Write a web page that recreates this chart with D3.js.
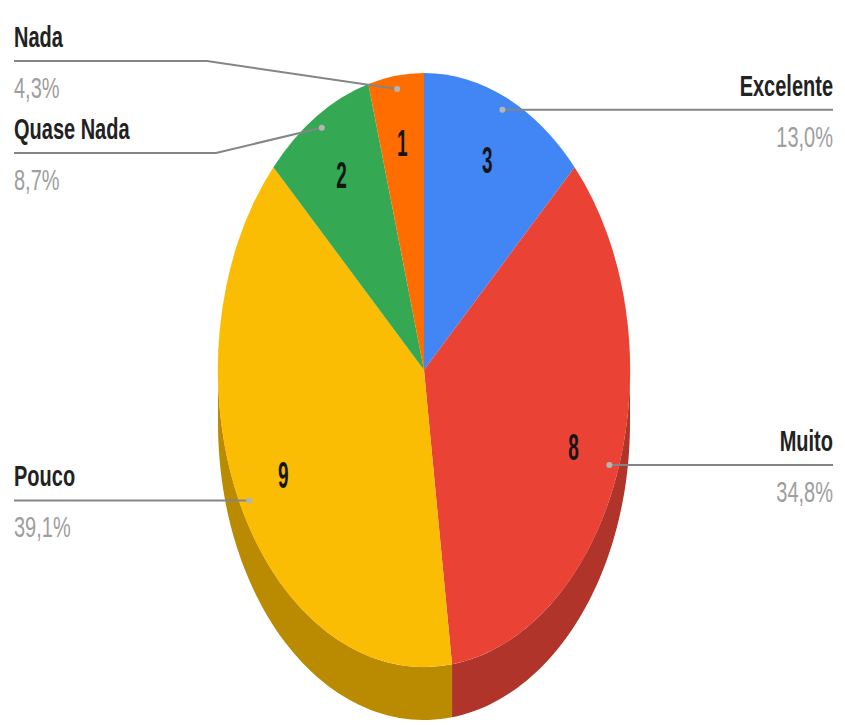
<!DOCTYPE html>
<html>
<head>
<meta charset="utf-8">
<script src="https://cdn.jsdelivr.net/npm/d3@7"></script>
<style>
  html, body { margin: 0; padding: 0; background: #fff; }
  svg { display: block; }
  text { font-family: "Liberation Sans", Arial, sans-serif; }
</style>
</head>
<body>
<svg id="chart" width="845" height="725"></svg>
<script>
// Survey answers and their counts
const categories = ["Excelente", "Muito", "Pouco", "Quase Nada", "Nada"];
const values = [3, 8, 9, 2, 1];
const topColors = ["#4285F4", "#EA4335", "#FBBC04", "#34A853", "#FF6D01"];
const sideColors = ["#2E5FB0", "#B0342A", "#BA8A00", "#26793C", "#B34C00"];

// Label placement: which side the callout sits on, line height (null = level with the dot) and elbow x
const calloutSide = ["right", "right", "left", "left", "left"];
const calloutY = [null, null, null, 153, 61];
const calloutKnee = [null, null, null, 216, 207];

const W = 845, H = 725;
const cx = 424, cy = 370, rx = 206, ry = 297, depth = 53;
const leftX = 14, rightX = 833;

const svg = d3.select("#chart");

// Ellipse scales: unit coordinates -> pixels
const sx = d3.scaleLinear().domain([-1, 1]).range([cx - rx, cx + rx]);
const sy = d3.scaleLinear().domain([-1, 1]).range([cy - ry, cy + ry]);
const pt = (a, r, dy = 0) => [sx(r * Math.sin(a)), sy(-r * Math.cos(a)) + dy];

const pie = d3.pie().sort(null).value(d => d)(values);
const total = d3.sum(values);
const locale = d3.formatLocale({ decimal: ",", thousands: ".", grouping: [3], currency: ["", ""] });
const pct = v => locale.format(".1f")(v / total * 100) + "%";

// Side wall of the disc (only the front half is visible)
const line = d3.line();
const sides = svg.append("g");
pie.forEach((p, i) => {
  const s = Math.max(p.startAngle, Math.PI / 2);
  const e = Math.min(p.endAngle, 3 * Math.PI / 2);
  if (e <= s) return;
  const n = 60;
  const pts = [];
  for (let k = 0; k <= n; k++) pts.push(pt(s + (e - s) * k / n, 1));
  for (let k = n; k >= 0; k--) pts.push(pt(s + (e - s) * k / n, 1, depth));
  sides.append("path").attr("d", line(pts) + "Z").attr("fill", sideColors[i]);
});

// Top face slices
const arc = d3.arc().innerRadius(0).outerRadius(1);
svg.append("g")
  .attr("transform", `translate(${cx},${cy}) scale(${rx},${ry})`)
  .selectAll("path").data(pie).join("path")
  .attr("d", arc)
  .attr("fill", (d, i) => topColors[i]);

// Value labels inside the slices
svg.append("g").selectAll("text").data(pie).join("text")
  .attr("transform", d => {
    const m = (d.startAngle + d.endAngle) / 2;
    const [x, y] = pt(m, 0.77);
    return `translate(${x},${y + 13}) scale(1,1.9)`;
  })
  .attr("text-anchor", "middle")
  .attr("font-size", 19)
  .attr("font-weight", "bold")
  .attr("fill", "#151515")
  .text(d => d.data);

// Callouts: leader line, category name and share
const callouts = svg.append("g");
pie.forEach((p, i) => {
  const m = (p.startAngle + p.endAngle) / 2;
  const [dx, dy] = pt(m, 0.955);
  const ly = calloutY[i] === null ? dy : calloutY[i];
  const right = calloutSide[i] === "right";
  const x0 = right ? rightX : leftX;
  const pts = [[x0, ly]];
  if (calloutKnee[i] !== null) pts.push([calloutKnee[i], ly]);
  pts.push([dx, dy]);
  callouts.append("path")
    .attr("d", line(pts))
    .attr("fill", "none")
    .attr("stroke", "#858585")
    .attr("stroke-width", 2);
  callouts.append("circle")
    .attr("cx", dx).attr("cy", dy).attr("r", 3)
    .attr("fill", "#b5b5b5");
  const anchor = right ? "end" : "start";
  callouts.append("text")
    .attr("transform", `translate(${x0},${ly - 14}) scale(1,1.5)`)
    .attr("text-anchor", anchor)
    .attr("font-size", 20)
    .attr("font-weight", "bold")
    .attr("fill", "#222")
    .text(categories[i]);
  callouts.append("text")
    .attr("transform", `translate(${x0},${ly + 37}) scale(1,1.5)`)
    .attr("text-anchor", anchor)
    .attr("font-size", 20)
    .attr("fill", "#9e9e9e")
    .text(pct(values[i]));
});
</script>
</body>
</html>
